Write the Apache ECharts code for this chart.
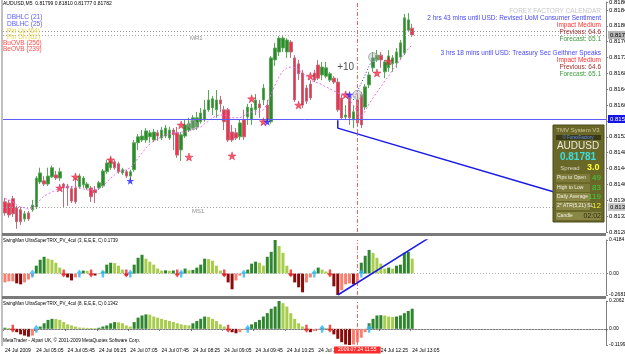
<!DOCTYPE html>
<html>
<head>
<meta charset="utf-8">
<script src="https://cdn.jsdelivr.net/npm/echarts@6/dist/echarts.min.js"></script>
<style>
  html, body { margin: 0; padding: 0; background: #fff; }
  #chart { width: 625px; height: 354px; }
</style>
</head>
<body>
<div id="chart"></div>
<script>
// prices kept in points (1 point = 0.00001)
const candles = [ // [open, close, low, high]
  [81361,81333,81326,81371],[81358,81328,81321,81366],[81369,81331,81323,81376],[81346,81311,81293,81351],
  [81341,81311,81303,81348],[81318,81331,81311,81338],[81333,81318,81313,81338],[81341,81353,81336,81366],
  [81348,81421,81343,81426],[81411,81434,81406,81447],[81414,81406,81401,81426],[81406,81426,81401,81447],
  [81424,81447,81421,81452],[81429,81421,81416,81439],[81421,81437,81414,81447],[81406,81399,81348,81409],
  [81401,81396,81351,81406],[81394,81363,81358,81401],[81396,81361,81356,81421],[81399,81426,81394,81432],
  [81404,81421,81396,81426],[81396,81406,81391,81411],[81396,81374,81361,81401],[81391,81384,81358,81401],
  [81396,81409,81391,81414],[81401,81439,81396,81444],[81437,81459,81432,81467],[81447,81464,81442,81472],
  [81462,81447,81442,81467],[81457,81437,81432,81462],[81434,81442,81429,81447],[81437,81426,81421,81442],
  [81426,81437,81416,81442],[81442,81510,81437,81517],[81510,81525,81492,81532],[81517,81527,81512,81542],
  [81517,81540,81510,81547],[81525,81535,81510,81542],[81517,81537,81512,81545],[81535,81527,81515,81542],
  [81522,81542,81517,81550],[81527,81547,81522,81555],[81522,81542,81517,81550],[81542,81530,81492,81547],
  [81535,81479,81472,81550],[81492,81530,81464,81537],[81527,81555,81522,81568],[81542,81558,81537,81573],
  [81547,81573,81542,81580],[81550,81573,81542,81588],[81563,81585,81558,81598],[81568,81593,81563,81618],
  [81593,81618,81588,81643],[81598,81621,81580,81628],[81593,81618,81573,81643],[81618,81608,81588,81628],
  [81593,81563,81542,81603],[81593,81517,81512,81598],[81537,81517,81512,81555],[81535,81522,81517,81547],
  [81525,81560,81517,81568],[81568,81525,81517,81593],[81575,81600,81555,81608],[81568,81598,81555,81608],
  [81593,81618,81580,81633],[81608,81598,81573,81618],[81618,81648,81605,81658],[81605,81568,81563,81618],
  [81563,81724,81558,81729],[81719,81749,81704,81762],[81739,81774,81729,81779],[81749,81774,81739,81779],
  [81739,81769,81724,81774],[81764,81739,81724,81769],[81724,81618,81613,81731],[81709,81684,81668,81719],
  [81686,81605,81598,81694],[81648,81615,81608,81656],[81658,81623,81618,81668],[81686,81668,81663,81694],
  [81706,81673,81668,81719],[81681,81701,81668,81714],[81678,81699,81673,81714],[81668,81684,81663,81689],
  [81673,81663,81658,81678],[81663,81593,81588,81673],[81623,81573,81568,81631],[81575,81580,81568,81605],
  [81623,81573,81555,81628],[81568,81588,81547,81605],[81618,81560,81552,81628],[81631,81555,81547,81638],
  [81600,81651,81593,81658],[81656,81681,81648,81689],[81699,81724,81689,81739],[81719,81731,81714,81744],
  [81731,81719,81699,81739],[81689,81714,81673,81719],[81699,81729,81689,81744],[81709,81724,81689,81731],
  [81711,81739,81699,81749],[81726,81762,81719,81769],[81736,81825,81731,81835],[81794,81820,81789,81837],
  [81799,81782,81777,81810]
];
const maLine = [
  81369,81366,81361,81353,81348,81346,81343,81346,81353,81366,81376,81381,81386,81391,81394,81396,
  81399,81399,81399,81396,81394,81391,81391,81391,81394,81401,81411,81421,81429,81437,81439,81442,
  81447,81457,81472,81484,81497,81507,81515,81520,81525,81530,81532,81535,81535,81537,81537,81540,
  81542,81547,81550,81558,81565,81573,81578,81580,81580,81578,81573,81573,81573,81578,81585,81588,
  81588,81588,81593,81608,81633,81656,81676,81691,81699,81701,81699,81694,81686,81676,81668,81663,
  81661,81656,81651,81646,81641,81636,81631,81626,81618,81605,81588,81575,81590,81608,81623,81638,
  81651,81666,81678,81694,81706,81721,81734,81747,81757
];
const trix3 = [
  -0.111,-0.098,-0.098,-0.123,-0.135,-0.111,-0.074,-0.037,0.098,0.172,0.209,0.185,0.172,0.135,0.074,-0.012,
  -0.049,-0.086,-0.049,-0.012,0.037,0.033,-0.012,-0.025,-0.006,0.025,0.111,0.135,0.130,0.098,0.049,-0.025,
  0.012,0.111,0.197,0.234,0.185,0.148,0.111,0.062,0.037,0.040,0.035,0.038,-0.012,0.012,0.062,0.040,
  0.045,0.074,0.111,0.185,0.180,0.160,0.098,0.037,-0.025,-0.111,-0.197,-0.086,-0.025,0.012,0.049,0.123,
  0.148,0.135,0.098,0.209,0.271,0.4184,0.344,0.258,0.098,-0.025,-0.111,-0.172,-0.234,-0.111,-0.049,0.012,
  0.074,0.049,0.025,-0.012,-0.160,-0.2681,-0.209,-0.135,-0.123,-0.135,-0.111,0.135,0.221,0.295,0.258,0.197,
  0.123,0.062,0.074,0.062,0.098,0.111,0.258,0.271,0.185
];
const trix8 = [
  0.008,0.006,-0.008,-0.025,-0.041,-0.050,-0.058,-0.050,-0.017,0.017,0.041,0.066,0.074,0.072,0.066,0.050,
  0.033,0.025,0.017,0.010,0.008,0.007,0.006,0.005,0.008,0.017,0.025,0.041,0.050,0.048,0.041,0.025,
  0.017,0.050,0.083,0.099,0.107,0.105,0.091,0.083,0.074,0.066,0.058,0.050,0.041,0.033,0.028,0.025,
  0.041,0.058,0.074,0.091,0.089,0.074,0.058,0.033,0.017,-0.008,-0.025,-0.033,-0.025,-0.008,0.008,0.033,
  0.050,0.066,0.091,0.116,0.149,0.165,0.2062,0.190,0.165,0.116,0.074,0.041,0.017,-0.008,-0.025,-0.017,
  -0.008,0.008,0.006,-0.008,-0.041,-0.074,-0.099,-0.116,-0.1199,-0.116,-0.099,-0.066,-0.025,0.041,0.074,0.099,
  0.101,0.099,0.091,0.088,0.091,0.099,0.116,0.132,0.149
];
const upArrows3 = [7, 19, 25, 32, 45, 61, 79, 91];
const downArrows3 = [15, 22, 31, 44, 56, 73, 83];
const upArrows8 = [8, 62, 81, 93];
const downArrows8 = [2, 57, 77, 83];
const redStars = [[14,81396],[18,81424],[27,81467],[45,81555],[47,81474],[58,81477],[63,81621],[66,81563],
  [75,81605],[78,81678],[87,81631],[95,81686],[98,81716]];
const blueStars = [[32,81414],[67,81563],[88,81631]];
const grayRings = [[48,81555],[90,81631],[94,81726]];
const blueDots = [[89,81618],[94,81724]];
const trendMain = [[85,81567],[85,81547],[145,81372]];
const trendTrix = [[85,-0.2681],[109,0.467]];
const levels = { bid: 81782, mr1: 81790, ms1: 81348, blue: 81570 };
const cursorIndex = 90;
const cursorLabel = '2009.07.24 11:55';
const firstDateLabel = '24 Jul 2009';
const dayPrefix = '24 Jul ';
const trix3Ticks = [-0.2681, 0, 0.4184];
const trix8Ticks = [-0.1199, 0, 0.2062];

const barCount = 154;
const barTimes = [];
for (let i = 0; i < barCount; i++) {
  const m = 4 * 60 + 25 + 5 * i;
  barTimes.push(String(Math.floor(m / 60)).padStart(2, '0') + ':' + String(m % 60).padStart(2, '0'));
}

const FONT = 'Liberation Sans';
const pts = v => (v / 100000).toFixed(5);
const showTime = i => i % 8 === 0 && i <= 104 && i !== 88;

function histColor(arr) {
  return p => {
    const v = arr[p.dataIndex];
    const prev = p.dataIndex > 0 ? arr[p.dataIndex - 1] : v;
    if (v >= 0) return v >= prev ? '#2f862f' : '#a8cc4c';
    return v < prev ? '#8b0a0a' : '#f88070';
  };
}

const STAR = 'path://M50,0L61,35L98,35L68,57L79,91L50,70L21,91L32,57L2,35L39,35Z';
const UP = 'path://M5,0L10,6L7,6L7,12L3,12L3,6L0,6Z';
const DOWN = 'path://M3,0L7,0L7,6L10,6L5,12L0,6L3,6Z';

const cursorLine = {
  xAxis: barTimes[cursorIndex],
  lineStyle: { color: '#ff6060', type: [4, 2, 1, 2], width: 1 },
  label: { show: false }
};
const zeroLine = {
  yAxis: 0,
  lineStyle: { color: '#b0b0b0', type: [1, 2], width: 1 },
  label: { show: false }
};

function xAxisFor(grid, bottom) {
  return {
    type: 'category', gridIndex: grid, data: barTimes, boundaryGap: true,
    axisLine: { show: bottom, lineStyle: { color: '#808080' } },
    axisTick: { show: bottom, interval: showTime, length: 2, lineStyle: { color: '#606060' } },
    axisLabel: {
      show: bottom, interval: showTime, align: 'left', margin: 3,
      fontSize: 5, fontFamily: FONT, color: '#000',
      formatter: (v, i) => (i === 0 ? firstDateLabel : dayPrefix + v)
    },
    splitLine: { show: false }
  };
}

function yAxisBase(grid) {
  return {
    type: 'value', gridIndex: grid, position: 'right', scale: true,
    axisLine: { show: true, lineStyle: { color: '#808080' } },
    axisTick: { show: true, length: 2, lineStyle: { color: '#808080' } },
    splitLine: { show: false },
    axisLabel: { fontSize: 6, fontFamily: FONT, color: '#000', margin: 3 }
  };
}

function boxLabel(bg, color) {
  return {
    show: true, position: 'end', distance: 2, formatter: p => pts(p.value),
    backgroundColor: bg, color: color, fontSize: 6, fontFamily: FONT, padding: [1, 2]
  };
}

function arrowSeries(arr, axis, symbol, color) {
  return {
    type: 'scatter', xAxisIndex: axis, yAxisIndex: axis, symbol, symbolSize: [6, 8],
    itemStyle: { color }, data: arr.map(i => [i, 0]), z: 5
  };
}

const txt = (x, y, text, fill, size, align, weight) => ({
  type: 'text', x, y, z: 100,
  style: { text, fill, fontSize: size, fontFamily: FONT, align: align || 'left', verticalAlign: 'middle', fontWeight: weight || 'normal' }
});
const box = (x, y, w, h, fill, stroke) => ({
  type: 'rect', z: 99, shape: { x, y, width: w, height: h }, style: { fill, stroke: stroke || null, lineWidth: 1 }
});

const graphics = [
  // panel separators and frame
  box(2, 233, 604, 3, '#7a7a7a'),
  box(2, 296, 604, 3, '#7a7a7a'),
  { type: 'line', z: 98, shape: { x1: 2, y1: 0, x2: 2, y2: 346 }, style: { stroke: '#808080', lineWidth: 1 } },
  // header and indicator legend
  txt(3, 4, 'AUDUSD,M5  0.81799 0.81810 0.81777 0.81782', '#000', 5),
  txt(7, 17, 'DBHLC (21)', '#5a5aff', 6.5),
  txt(7, 24, 'DBLHC (25)', '#5a5aff', 6.5),
  txt(7, 31, 'Pin Up (64)', '#ecd24a', 6.5),
  txt(7, 37, 'Pin Dn (61)', '#ecd24a', 6.5),
  txt(3, 43, 'BuOVB (256)', '#ff4a4a', 6.5),
  txt(3, 49, 'BeOVB (239)', '#ff4a4a', 6.5),
  txt(190, 38, 'MR1', '#909090', 6),
  txt(192, 211, 'MS1', '#909090', 6),
  // calendar
  txt(601, 11, 'FOREX FACTORY CALENDAR', '#c8c8c8', 6.5, 'right'),
  txt(601, 18, '2 hrs 43 mins until USD: Revised UoM Consumer Sentiment', '#4646ff', 6.5, 'right'),
  txt(601, 25, 'Impact Medium', '#ff3030', 6.5, 'right'),
  txt(601, 32, 'Previous: 64.6', '#a03030', 6.5, 'right'),
  txt(601, 39, 'Forecast: 65.1', '#3a9a3a', 6.5, 'right'),
  txt(601, 53, '3 hrs 18 mins until USD: Treasury Sec Geithner Speaks', '#4646ff', 6.5, 'right'),
  txt(601, 60, 'Impact Medium', '#ff3030', 6.5, 'right'),
  txt(601, 67, 'Previous: 64.6', '#a03030', 6.5, 'right'),
  txt(601, 74, 'Forecast: 65.1', '#3a9a3a', 6.5, 'right'),
  // info panel
  box(553, 125, 51, 97, '#6a6828', '#4c4a1c'),
  box(556, 135, 45, 5, '#3c3a14'),
  box(556, 174, 34, 8, '#7e7a3a'),
  box(556, 184, 34, 8, '#7e7a3a'),
  box(556, 193, 34, 8, '#8a8646'),
  box(556, 202, 34, 8, '#8a8646'),
  box(556, 212, 45, 8, '#8a8646'),
  txt(578, 130, 'TMV System V3', '#cfc79a', 6, 'center'),
  txt(578, 137.5, '© ForexFactory', '#5a8cff', 4.5, 'center'),
  txt(578, 146, 'AUDUSD', '#e8e8dc', 10, 'center'),
  txt(578, 157, '0.81781', '#38e0e0', 10, 'center', 'bold'),
  txt(570, 168, 'Spread', '#d8d8c8', 6, 'center'),
  txt(587, 168, '3.0', '#ffff30', 9, 'left', 'bold'),
  txt(557, 178, 'Pips to Open', '#f0f0e0', 5),
  txt(601, 178, '49', '#40d040', 8, 'right'),
  txt(557, 188, 'High to Low', '#f0f0e0', 5),
  txt(601, 188, '83', '#40d040', 8, 'right'),
  txt(557, 197, 'Daily Average', '#f0f0e0', 5),
  txt(601, 197, '119', '#40d040', 8, 'right'),
  txt(557, 206, '2* ATR(5,21) SL', '#f0f0e0', 5),
  txt(601, 206, '12', '#f0f030', 8, 'right'),
  txt(557, 216, 'Candle', '#f0f0e0', 5),
  txt(601, 216, '02:02', '#2c2c10', 7, 'right'),
  // indicator titles and footer
  txt(3, 241, 'SwingMan UltraSuperTRIX_PV_4col (3, E,E,E, C) 0.1739', '#000', 4.5),
  txt(3, 304, 'SwingMan UltraSuperTRIX_PV_4col (8, E,E,E, C) 0.1342', '#000', 4.5),
  txt(3, 341, 'MetaTrader - Alpari UK, © 2001-2009 MetaQuotes Software Corp.', '#000', 4.7)
];

const option = {
  animation: false,
  backgroundColor: '#ffffff',
  textStyle: { fontFamily: FONT },
  grid: [
    { left: 3, top: 2, width: 603, height: 230, outerBoundsMode: 'none', containLabel: false },
    { left: 3, top: 240, width: 603, height: 55, outerBoundsMode: 'none', containLabel: false },
    { left: 3, top: 301, width: 603, height: 44, outerBoundsMode: 'none', containLabel: false }
  ],
  xAxis: [xAxisFor(0, false), xAxisFor(1, false), xAxisFor(2, true)],
  yAxis: [
    Object.assign(yAxisBase(0), {
      min: 81285, max: 81865, interval: 40,
      axisLabel: { fontSize: 6, fontFamily: FONT, color: '#000', margin: 3, formatter: pts }
    }),
    Object.assign(yAxisBase(1), {
      min: trix3Ticks[0], max: trix3Ticks[2],
      axisLabel: { fontSize: 5, fontFamily: FONT, color: '#000', margin: 3, customValues: trix3Ticks,
        formatter: v => (v === 0 ? '0.00' : v.toFixed(4)) },
      axisTick: { show: true, length: 2, customValues: trix3Ticks, lineStyle: { color: '#808080' } }
    }),
    Object.assign(yAxisBase(2), {
      min: trix8Ticks[0], max: trix8Ticks[2],
      axisLabel: { fontSize: 5, fontFamily: FONT, color: '#000', margin: 3, customValues: trix8Ticks,
        formatter: v => (v === 0 ? '0.00' : v.toFixed(4)) },
      axisTick: { show: true, length: 2, customValues: trix8Ticks, lineStyle: { color: '#808080' } }
    })
  ],
  graphic: graphics,
  series: [
    {
      type: 'candlestick', xAxisIndex: 0, yAxisIndex: 0, data: candles, barWidth: 3,
      itemStyle: { color: '#2d8a2d', color0: '#ff2a4c', borderColor: '#58a858', borderColor0: '#b8707c', borderWidth: 1 },
      markLine: {
        symbol: 'none', silent: true, animation: false,
        data: [
          { yAxis: levels.blue, lineStyle: { color: '#5c5cff', type: 'solid', width: 1 }, label: boxLabel('#1414e6', '#ffffff') },
          { yAxis: levels.bid, lineStyle: { color: '#a8a8a8', type: [1, 2], width: 1 }, label: boxLabel('#b4b4b4', '#000000') },
          { yAxis: levels.mr1, lineStyle: { color: '#909090', type: [1, 2], width: 1 }, label: { show: false } },
          { yAxis: levels.ms1, lineStyle: { color: '#a0a0a0', type: [1, 2], width: 1 }, label: boxLabel('#c8c8c8', '#000000') },
          cursorLine
        ]
      }
    },
    {
      type: 'line', xAxisIndex: 0, yAxisIndex: 0, data: maLine, symbol: 'none',
      lineStyle: { color: '#f070f0', width: 1, type: [2, 2] }, z: 3
    },
    {
      type: 'line', xAxisIndex: 0, yAxisIndex: 0, data: blueDots, symbol: 'none',
      lineStyle: { color: '#3030ff', width: 1, type: [1, 2] }, z: 3
    },
    {
      type: 'line', xAxisIndex: 0, yAxisIndex: 0, data: trendMain, symbol: 'none',
      lineStyle: { color: '#1a1ae6', width: 1.5 }, z: 4
    },
    {
      type: 'scatter', xAxisIndex: 0, yAxisIndex: 0, data: grayRings, symbol: 'circle', symbolSize: 9,
      itemStyle: { color: 'rgba(170,170,170,0.45)', borderColor: '#a0a0a0', borderWidth: 1 }, z: 5
    },
    {
      type: 'scatter', xAxisIndex: 0, yAxisIndex: 0, data: redStars, symbol: STAR, symbolSize: 8,
      itemStyle: { color: '#ff2a4a', borderColor: '#c01030', borderWidth: 0.5 }, z: 6
    },
    {
      type: 'scatter', xAxisIndex: 0, yAxisIndex: 0, data: blueStars, symbol: STAR, symbolSize: 8,
      itemStyle: { color: '#1e1eff' }, z: 6
    },
    {
      type: 'scatter', xAxisIndex: 0, yAxisIndex: 0, data: [[87, 81701]], symbolSize: 0,
      label: { show: true, formatter: '+10', color: '#222', fontSize: 10, fontFamily: FONT, position: 'inside' }, z: 7
    },
    {
      type: 'bar', xAxisIndex: 1, yAxisIndex: 1, data: trix3, barWidth: 3,
      itemStyle: { color: histColor(trix3) },
      markLine: { symbol: 'none', silent: true, animation: false, data: [zeroLine, cursorLine] }
    },
    arrowSeries(upArrows3, 1, UP, '#2cb8ff'),
    arrowSeries(downArrows3, 1, DOWN, '#f02020'),
    {
      type: 'line', xAxisIndex: 1, yAxisIndex: 1, data: trendTrix, symbol: 'none', clip: true,
      lineStyle: { color: '#1a1ae6', width: 1.5 }, z: 6
    },
    {
      type: 'bar', xAxisIndex: 2, yAxisIndex: 2, data: trix8, barWidth: 3,
      itemStyle: { color: histColor(trix8) },
      markLine: { symbol: 'none', silent: true, animation: false, data: [zeroLine, cursorLine] }
    },
    arrowSeries(upArrows8, 2, UP, '#2cb8ff'),
    arrowSeries(downArrows8, 2, DOWN, '#f02020')
  ]
};

const chart = echarts.init(document.getElementById('chart'));
chart.setOption(option);

// time label of the cursor line, placed through the x scale
const cx = chart.convertToPixel({ xAxisIndex: 2 }, barTimes[cursorIndex]);
chart.setOption({
  graphic: graphics.concat([{
    type: 'text', x: cx, y: 350, z: 101,
    style: {
      text: cursorLabel, fill: '#ffffff', backgroundColor: '#ff2a2a', padding: [1, 4],
      fontSize: 5, fontFamily: FONT, align: 'center', verticalAlign: 'middle'
    }
  }])
});
</script>
</body>
</html>
